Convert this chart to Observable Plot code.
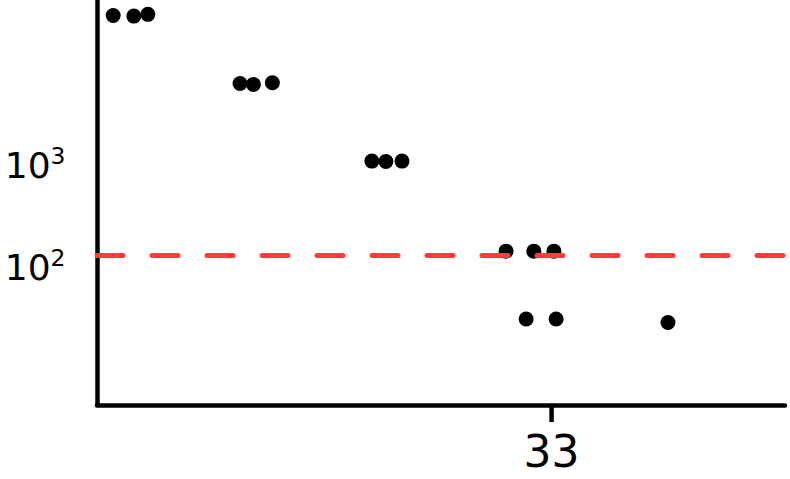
<!DOCTYPE html>
<html>
<head>
<meta charset="utf-8">
<script src="https://cdn.jsdelivr.net/npm/d3@7"></script>
<script src="https://cdn.jsdelivr.net/npm/@observablehq/plot@0.6"></script>
<style>
  html, body { margin: 0; padding: 0; background: white; }
</style>
</head>
<body>
<div id="chart"></div>
<script>
// Data
const xValues = [1.14, 2.64, 3.66, 10.36, 11.33, 12.71, 19.94, 20.96, 22.13, 29.69, 31.71, 33.17, 31.15, 33.33, 41.46];
const yValues = [30200, 29800, 31000, 6520, 6380, 6620, 1130, 1120, 1130, 148, 148, 148, 32, 32, 29.6];
const threshold = [134];
const xTicks = [33];
const yTicks = [100, 1000];
const yTickExponents = ["2", "3"];

const xDomain = [0, 50];
const yDomain = [4.54, 42400];

const points = xValues.map((x, i) => ({x, y: yValues[i]}));

const chart = Plot.plot({
  width: 790,
  height: 479,
  marginLeft: 97,
  marginRight: 5,
  marginTop: 0,
  marginBottom: 74,
  x: {domain: xDomain, label: null},
  y: {type: "log", domain: yDomain, label: null},
  style: {fontFamily: "DejaVu Sans", background: "white", color: "black"},
  marks: [
    Plot.axisX({ticks: xTicks, tickSize: 17, tickPadding: 13, fontSize: 44, strokeWidth: 4.5, label: null, tickFormat: d => String(d)}),
    Plot.axisY({ticks: yTicks, tickSize: 0, tickPadding: 32, fontSize: 36, label: null,
      tickFormat: d => "10^" + yTickExponents[yTicks.indexOf(d)]}),
    Plot.ruleX([xDomain[0]], {stroke: "black", strokeWidth: 4.5, strokeLinecap: "round"}),
    Plot.ruleY([yDomain[0]], {stroke: "black", strokeWidth: 4.5, strokeLinecap: "round"}),
    Plot.dot(points, {x: "x", y: "y", r: 7.5, fill: "black", stroke: "none"}),
    Plot.ruleY(threshold, {stroke: "#ff3b3b", strokeWidth: 5, strokeDasharray: "26,29", strokeLinecap: "round"})
  ]
});

// Turn "10^n" tick labels into a base with a real superscript
d3.select(chart).selectAll("text").each(function() {
  const t = d3.select(this);
  const s = t.text();
  if (s.startsWith("10^")) {
    const exp = s.slice(3);
    t.text("10");
    t.append("tspan").attr("dy", "-0.6em").attr("font-size", "0.65em").text(exp);
  }
});

document.getElementById("chart").appendChild(chart);
</script>
</body>
</html>
